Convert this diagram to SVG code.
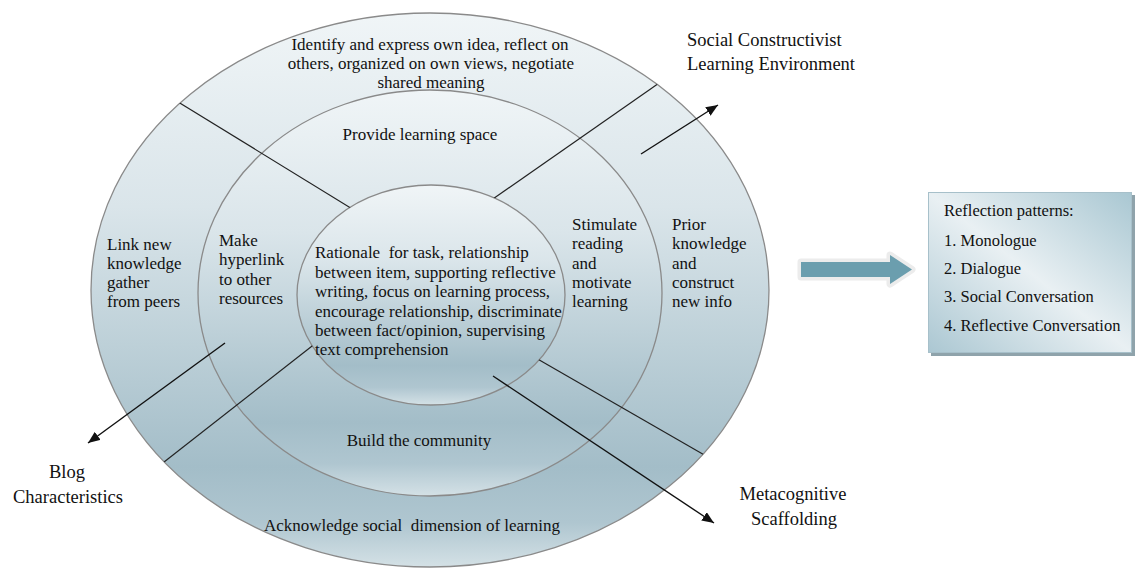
<svg xmlns="http://www.w3.org/2000/svg" width="1135" height="568" viewBox="0 0 1135 568">
  <defs>
    <!-- vertical shading shared by the three rings -->
    <linearGradient id="ringFill" x1="0" y1="0" x2="0" y2="1">
      <stop offset="0" stop-color="#f0f5f7"/>
      <stop offset="0.35" stop-color="#dae5ea"/>
      <stop offset="0.6" stop-color="#bdd0d8"/>
      <stop offset="0.82" stop-color="#a3bdc8"/>
      <stop offset="0.92" stop-color="#afc6d0"/>
      <stop offset="1" stop-color="#d4e1e6"/>
    </linearGradient>
    <linearGradient id="boxFill" x1="1" y1="0" x2="0" y2="1">
      <stop offset="0" stop-color="#a9c7d2"/>
      <stop offset="0.5" stop-color="#e9f0f3"/>
      <stop offset="1" stop-color="#abc7d2"/>
    </linearGradient>
    <!-- band between the outer and the inner ellipse -->
    <clipPath id="ringBand">
      <path clip-rule="evenodd" d="M91,290 a339,277 0 1,0 678,0 a339,277 0 1,0 -678,0 Z M297,295 a134,110 0 1,0 268,0 a134,110 0 1,0 -268,0 Z"/>
    </clipPath>
    <marker id="head" viewBox="0 0 12 10" refX="12" refY="5" markerWidth="12" markerHeight="10" markerUnits="userSpaceOnUse" orient="auto">
      <path d="M0,0 L12,5 L0,10 Z" fill="#111"/>
    </marker>
    <style>
      .ring { fill: url(#ringFill); stroke: #8a8a8a; stroke-width: 1.3; }
      .t { font-family: "Liberation Serif", "Times New Roman", serif; font-size: 17px; fill: #111; }
      .lbl { font-family: "Liberation Serif", "Times New Roman", serif; font-size: 18.5px; fill: #111; }
      .bx { font-family: "Liberation Serif", "Times New Roman", serif; font-size: 16.5px; fill: #111; }
      .mid { text-anchor: middle; }
      .divider { stroke: #222; stroke-width: 1.2; fill: none; }
      .arrow { stroke: #111; stroke-width: 1.4; fill: none; marker-end: url(#head); }
    </style>
  </defs>

  <!-- outer ring: social constructivist learning environment -->
  <g id="ring-outer">
    <ellipse class="ring" cx="430" cy="290" rx="339" ry="277"/>
    <text class="t mid" x="430" y="50">Identify and express own idea, reflect on</text>
    <text class="t mid" x="431" y="69">others, organized on own views, negotiate</text>
    <text class="t mid" x="431" y="88">shared meaning</text>
    <text class="t" x="107" y="250">Link new</text>
    <text class="t" x="107" y="269">knowledge</text>
    <text class="t" x="107" y="288">gather</text>
    <text class="t" x="107" y="307">from peers</text>
    <text class="t" x="672" y="230">Prior</text>
    <text class="t" x="672" y="249">knowledge</text>
    <text class="t" x="672" y="269">and</text>
    <text class="t" x="672" y="288">construct</text>
    <text class="t" x="672" y="307">new info</text>
    <text class="t mid" x="412" y="531" xml:space="preserve">Acknowledge social  dimension of learning</text>
  </g>

  <!-- middle ring: blog characteristics -->
  <g id="ring-middle">
    <ellipse class="ring" cx="430" cy="293" rx="232" ry="203"/>
    <text class="t mid" x="420" y="140">Provide learning space</text>
    <text class="t" x="219" y="246">Make</text>
    <text class="t" x="219" y="265">hyperlink</text>
    <text class="t" x="219" y="285">to other</text>
    <text class="t" x="219" y="304">resources</text>
    <text class="t" x="572" y="230">Stimulate</text>
    <text class="t" x="572" y="249">reading</text>
    <text class="t" x="572" y="269">and</text>
    <text class="t" x="572" y="288">motivate</text>
    <text class="t" x="572" y="307">learning</text>
    <text class="t mid" x="419" y="446">Build the community</text>
  </g>

  <!-- inner core: metacognitive scaffolding -->
  <g id="ring-inner">
    <ellipse class="ring" cx="431" cy="295" rx="134" ry="110"/>
    <text class="t" x="315" y="258" xml:space="preserve">Rationale  for task, relationship</text>
    <text class="t" x="315" y="278">between item, supporting reflective</text>
    <text class="t" x="315" y="297">writing, focus on learning process,</text>
    <text class="t" x="315" y="317">encourage relationship, discriminate</text>
    <text class="t" x="315" y="336">between fact/opinion, supervising</text>
    <text class="t" x="315" y="355">text comprehension</text>
  </g>

  <!-- dividers between segments and pointer arrows -->
  <g id="connectors">
    <g clip-path="url(#ringBand)">
      <line class="divider" x1="170" y1="97" x2="380" y2="226"/>
      <line class="divider" x1="662" y1="81" x2="470" y2="215"/>
      <line class="divider" x1="150" y1="473" x2="330" y2="332"/>
      <line class="divider" x1="720" y1="464" x2="515" y2="346"/>
    </g>
    <line class="arrow" x1="641" y1="154" x2="718" y2="105"/>
    <line class="arrow" x1="225" y1="343" x2="88" y2="443"/>
    <line class="arrow" x1="493" y1="376" x2="714" y2="523"/>
  </g>

  <g id="label-social">
    <text class="lbl" x="687" y="46">Social Constructivist</text>
    <text class="lbl" x="687" y="70">Learning Environment</text>
  </g>
  <g id="label-blog">
    <text class="lbl mid" x="67" y="478">Blog</text>
    <text class="lbl mid" x="68" y="503">Characteristics</text>
  </g>
  <g id="label-meta">
    <text class="lbl mid" x="793" y="500">Metacognitive</text>
    <text class="lbl mid" x="794" y="525">Scaffolding</text>
  </g>

  <!-- block arrow towards the outcome box -->
  <g id="block-arrow">
    <path d="M801,262 H890 V255 L912,269.5 L890,284 V277 H801 Z" fill="none" stroke="#ececec" stroke-width="7" stroke-linejoin="round"/>
    <path d="M801,262 H890 V255 L912,269.5 L890,284 V277 H801 Z" fill="#6b9eae"/>
  </g>

  <g id="reflection-box">
    <rect x="931" y="195" width="204" height="161" fill="#8fa3ab"/>
    <rect x="928.5" y="192.5" width="203" height="160" fill="url(#boxFill)" stroke="#a7c0ca" stroke-width="1"/>
    <text class="bx" x="944" y="216">Reflection patterns:</text>
    <text class="bx" x="944" y="246">1. Monologue</text>
    <text class="bx" x="944" y="274">2. Dialogue</text>
    <text class="bx" x="944" y="302">3. Social Conversation</text>
    <text class="bx" x="944" y="331">4. Reflective Conversation</text>
  </g>
</svg>
